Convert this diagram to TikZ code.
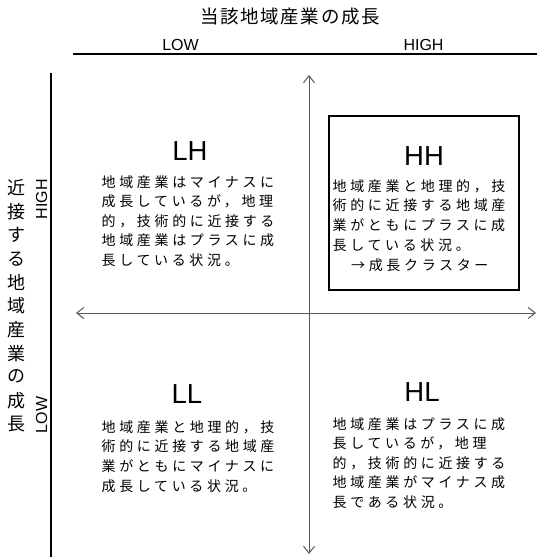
\documentclass[tikz,border=0pt]{standalone}
\usepackage{fontspec}
\setmainfont{Liberation Sans}
\newfontfamily\jpbody[LetterSpace=26]{Noto Sans CJK JP}
\newfontfamily\jptitle[LetterSpace=9]{Noto Sans CJK JP}
\newfontfamily\jpvert{Noto Sans CJK JP}
\usetikzlibrary{arrows.meta}
\tikzset{
  body/.style={inner sep=0pt, anchor=base west, font=\jpbody\fontsize{14}{14}\selectfont},
  quad/.style={inner sep=0pt, font=\fontsize{27.5}{27.5}\selectfont},
  lowhigh/.style={inner sep=0pt, font=\fontsize{16}{16}\selectfont},
  frameline/.style={line width=2pt, black},
  axis/.style={line width=1pt, black!65, {Straight Barb[length=7pt,width=11pt,line width=1pt]}-{Straight Barb[length=7pt,width=11pt,line width=1pt]}},
}
\begin{document}
\begin{tikzpicture}[x=1pt,y=-1pt]
\useasboundingbox (0,0) rectangle (537,557);
% titles
\node[inner sep=0pt, anchor=base, font=\jptitle\fontsize{18.5}{18.5}\selectfont] (title) at (290,23) {当該地域産業の成長};
\node[lowhigh, anchor=base] (low) at (180.5,50) {LOW};
\node[lowhigh, anchor=base] (high) at (423.5,50) {HIGH};
% frame lines
\coordinate (tl) at (73,54);
\coordinate (tr) at (537,54);
\draw[frameline] (tl) -- (tr);
\coordinate (lt) at (51,73);
\coordinate (lb) at (51,557);
\draw[frameline] (lt) -- (lb);
% left labels
\node[lowhigh, rotate=90] (vhigh) at (41.5,199) {HIGH};
\node[lowhigh, rotate=90] (vlow) at (41.5,415) {LOW};
\foreach \c [count=\i] in {近,接,す,る,地,域,産,業,の,成,長}
  \node[inner sep=0pt, font=\jpvert\fontsize{18}{18}\selectfont] (v\i) at (17,{188+23.6*(\i-1)}) {\c};
% axes
\coordinate (at) at (309,75);
\coordinate (ab) at (309,554);
\coordinate (al) at (76,313);
\coordinate (ar) at (536,313);
\draw[axis] (at) -- (ab);
\draw[axis] (al) -- (ar);
% HH box
\node[draw, frameline, minimum width=190pt, minimum height=174pt, inner sep=0pt] (hhbox) at (424,203) {};
% quadrant letters
\node[quad] (LH) at (190,151) {LH};
\node[quad] (HH) at (424,156) {HH};
\node[quad] (LL) at (187,394) {LL};
\node[quad] (HL) at (422,392) {HL};
% body texts
\foreach \t [count=\i] in {地域産業はマイナスに,成長しているが，地理,的，技術的に近接する,地域産業はプラスに成,長している状況。}
  \node[body] (lh\i) at (101.5,{187+19.6*(\i-1)}) {\t};
\foreach \t [count=\i] in {地域産業と地理的，技,術的に近接する地域産,業がともにプラスに成,長している状況。}
  \node[body] (hh\i) at (332.5,{191+19.8*(\i-1)}) {\t};
\node[body] (hh5) at (351,270.5) {→成長クラスター};
\foreach \t [count=\i] in {地域産業と地理的，技,術的に近接する地域産,業がともにマイナスに,成長している状況。}
  \node[body] (ll\i) at (101.5,{432+19.8*(\i-1)}) {\t};
\foreach \t [count=\i] in {地域産業はプラスに成,長しているが，地理,的，技術的に近接する,地域産業がマイナス成,長である状況。}
  \node[body] (hl\i) at (332.5,{429+19.5*(\i-1)}) {\t};
\end{tikzpicture}
\end{document}
